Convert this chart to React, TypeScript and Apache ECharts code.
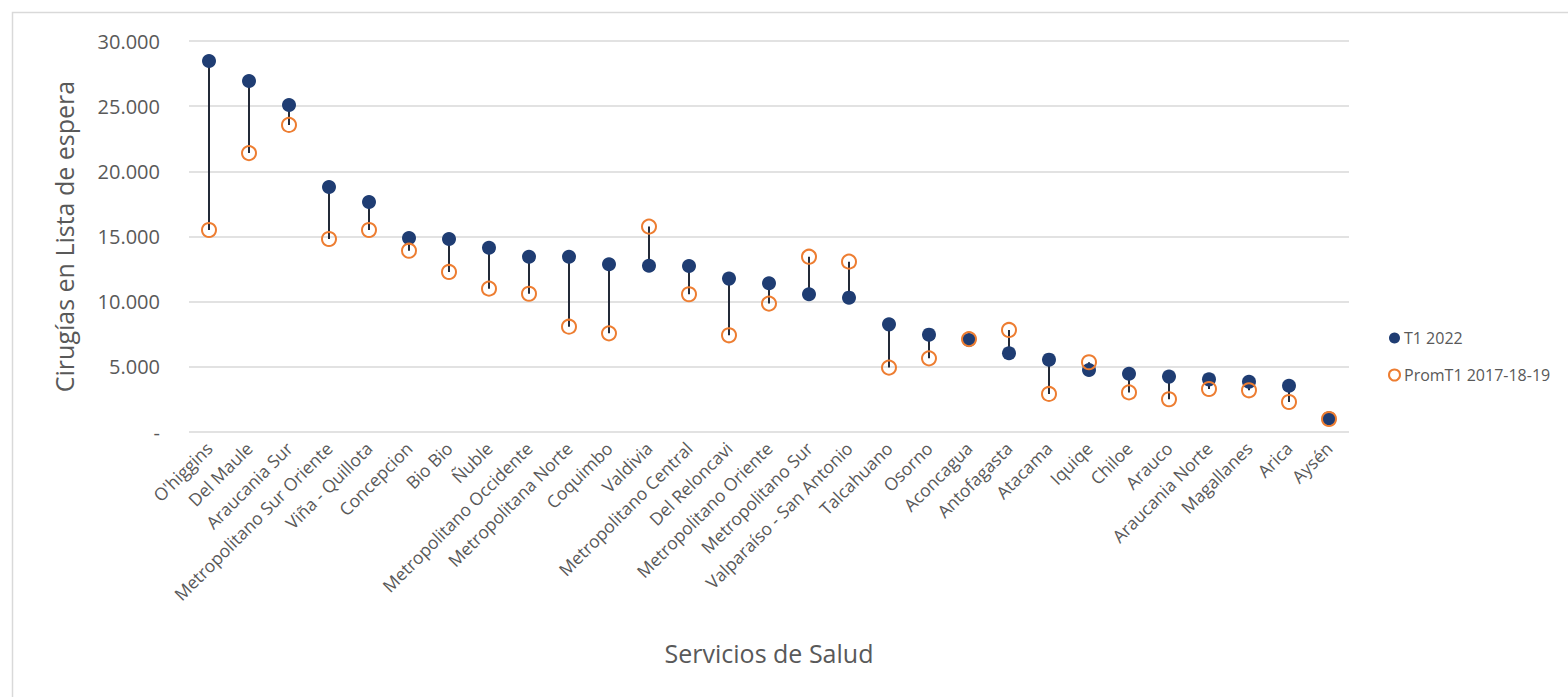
import React, { useEffect, useRef } from "react";
import * as echarts from "echarts";

const categories = [
  "O'higgins", "Del Maule", "Araucania Sur", "Metropolitano Sur Oriente", "Viña - Quillota",
  "Concepcion", "Bio Bio", "Ñuble", "Metropolitano Occidente", "Metropolitana Norte",
  "Coquimbo", "Valdivia", "Metropolitano Central", "Del Reloncavi", "Metropolitano Oriente",
  "Metropolitano Sur", "Valparaíso - San Antonio", "Talcahuano", "Osorno", "Aconcagua",
  "Antofagasta", "Atacama", "Iquiqe", "Chiloe", "Arauco",
  "Araucania Norte", "Magallanes", "Arica", "Aysén",
];

const t1_2022 = [
  28470, 26930, 25090, 18800, 17650,
  14880, 14810, 14140, 13450, 13450,
  12870, 12760, 12740, 11770, 11410,
  10570, 10310, 8260, 7470, 7060,
  6040, 5550, 4760, 4470, 4250,
  4040, 3860, 3550, 1050,
];

const promT1_2017_18_19 = [
  15500, 21400, 23560, 14810, 15500,
  13910, 12280, 11000, 10610, 8080,
  7570, 15760, 10570, 7420, 9850,
  13450, 13070, 4940, 5650, 7130,
  7830, 2920, 5350, 3040, 2510,
  3300, 3200, 2300, 1000,
];

const yTicks = [0, 5000, 10000, 15000, 20000, 25000, 30000];

const seriesNames = ["T1 2022", "PromT1 2017-18-19"];

const fmt = (v: number) => (v === 0 ? "-" : String(v).replace(/\B(?=(\d{3})+(?!\d))/g, "."));

export default function App() {
  const ref = useRef<HTMLDivElement>(null);
  useEffect(() => {
    document.body.style.margin = "0";
    document.body.style.overflow = "hidden";
    const chart = echarts.init(ref.current!, undefined, { renderer: "svg" });
    const font = "'Open Sans', 'Noto Sans', sans-serif";
    const lineData = categories.map((_, i) => [i, t1_2022[i], promT1_2017_18_19[i]]);
    chart.setOption({
      animation: false,
      backgroundColor: "#ffffff",
      textStyle: { fontFamily: font },
      graphic: [
        {
          type: "rect",
          shape: { x: 12.5, y: 12.5, width: 2000, height: 1000 },
          style: { fill: "none", stroke: "#d9d9d9", lineWidth: 1.5 },
          silent: true,
          z: -10,
        },
      ],
      grid: { left: 189, right: 219, top: 41, bottom: 265, containLabel: false },
      legend: {
        data: seriesNames,
        orient: "vertical",
        left: 1388,
        top: 330,
        padding: 0,
        itemWidth: 11,
        itemHeight: 11,
        itemGap: 21,
        textStyle: { fontSize: 16, color: "#595959", fontFamily: font, padding: [0, 0, 0, -1] },
      },
      xAxis: {
        type: "category",
        data: categories,
        boundaryGap: true,
        name: "Servicios de Salud",
        nameLocation: "middle",
        nameGap: 208,
        nameTextStyle: { fontSize: 25, color: "#595959", fontFamily: font },
        axisLine: { show: false },
        axisTick: { show: false },
        axisLabel: {
          interval: 0,
          rotate: 45,
          margin: 13,
          fontSize: 17.5,
          color: "#595959",
          fontFamily: font,
        },
      },
      yAxis: {
        type: "value",
        min: 0,
        max: 30000,
        interval: 5000,
        name: "Cirugías en Lista de espera",
        nameLocation: "middle",
        nameGap: 113,
        nameTextStyle: { fontSize: 25, color: "#595959", fontFamily: font },
        axisLine: { show: false },
        axisTick: { show: false },
        axisLabel: {
          margin: 29,
          fontSize: 20,
          color: "#595959",
          fontFamily: font,
          formatter: (v: number) => (yTicks.includes(v) ? fmt(v) : ""),
        },
        splitLine: { lineStyle: { color: "#d9d9d9", width: 1.5 } },
      },
      series: [
        {
          type: "custom",
          name: "lines",
          data: lineData,
          encode: { x: 0, y: [1, 2] },
          z: 1,
          silent: true,
          renderItem: (params: any, api: any) => {
            const x = api.value(0);
            const p1 = api.coord([x, api.value(1)]);
            const p2 = api.coord([x, api.value(2)]);
            return {
              type: "line",
              shape: { x1: p1[0], y1: p1[1], x2: p2[0], y2: p2[1] },
              style: { stroke: "#232a38", lineWidth: 2 },
            };
          },
        },
        {
          type: "scatter",
          name: seriesNames[0],
          data: t1_2022,
          symbol: "circle",
          symbolSize: 14,
          z: 2,
          itemStyle: { color: "#1f3d73", opacity: 1 },
        },
        {
          type: "scatter",
          name: seriesNames[1],
          data: promT1_2017_18_19,
          symbol: "circle",
          symbolSize: 14,
          z: 3,
          itemStyle: { color: "rgba(255,255,255,0)", borderColor: "#ed7d31", borderWidth: 2, opacity: 1 },
        },
      ],
    });
    return () => chart.dispose();
  }, []);
  return <div ref={ref} style={{ width: 1568, height: 697 }} />;
}
